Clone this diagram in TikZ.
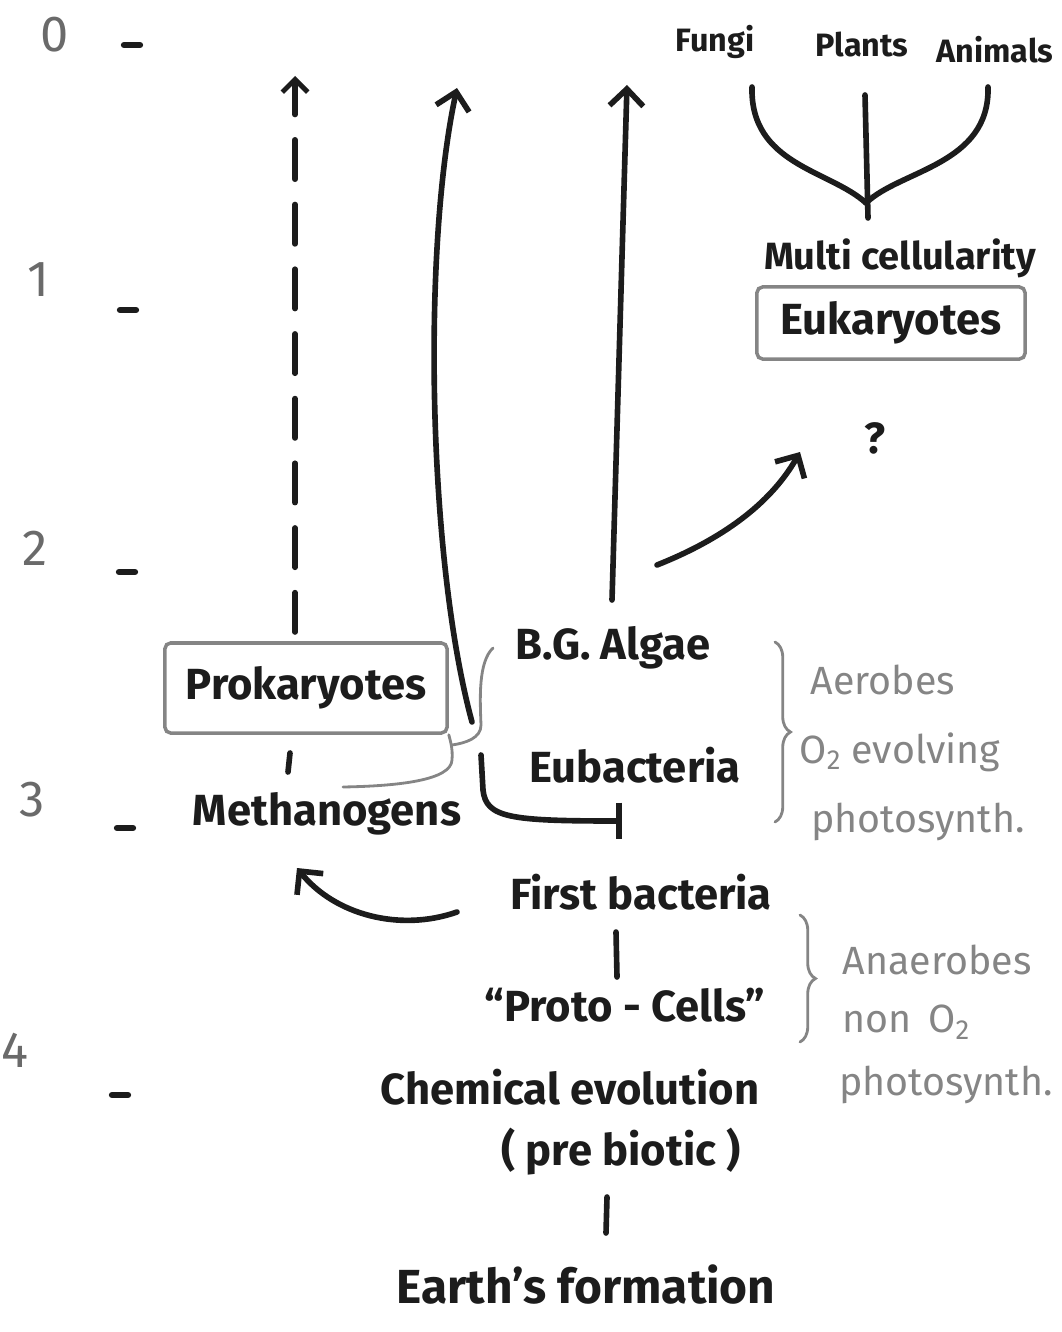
\documentclass[tikz,border=0pt]{standalone}
\usepackage{fontspec}
\setmainfont{Fira Sans}
\usetikzlibrary{arrows.meta,decorations.pathreplacing}
\definecolor{inkc}{HTML}{1C1C1C}
\definecolor{leadc}{HTML}{858585}

\begin{document}
\begin{tikzpicture}[
x=0.025cm,y=-0.025cm,
line cap=round,
inkline/.style={draw=inkc,line width=4pt},
leadline/.style={draw=leadc,line width=2pt},
tip/.style={-{Straight Barb[length=12pt,width=24pt,line width=4pt]}},
word/.style={text=inkc,font=\fontsize{31}{36}\selectfont\bfseries,inner sep=2pt},
small/.style={text=inkc,font=\fontsize{23}{28}\selectfont\bfseries,inner sep=2pt},
note/.style={text=leadc,font=\fontsize{28}{32}\selectfont,inner sep=2pt},
boxed/.style={draw=leadc,line width=2.5pt,rounded corners=4pt}
]
\useasboundingbox (0,0) rectangle (1061,1332);

% time scale
\foreach \t/\nx/\ny/\dx/\dy in {0/55/35/132/45,1/38/280/128/310,2/35/548/127/572,3/32/800/125/828,4/15/1050/120/1095}
{
    \node[note,font=\fontsize{36}{40}\selectfont,text=leadc!80!black] (age\t) at (\nx,\ny) {\t};
    \draw[inkline,line width=4.5pt] (\dx-8,\dy) -- (\dx+8,\dy);
}

% eukaryote branch
\node[small] (fungi) at (715,42) {Fungi};
\node[small] (plants) at (862,45) {Plants};
\node[small] (animals) at (995,50) {Animals};
\node[word,font=\fontsize{27}{32}\selectfont\bfseries] (multi) at (900,258) {Multi cellularity};
\node[word,boxed,minimum width=6.7cm,minimum height=1.8cm] (euk) at (891,323) {Eukaryotes};
\node[word] (q) at (875,438) {?};

\coordinate (forkjoin) at (866,203);
\coordinate (forkfoot) at (868,218);
\draw[inkline] (752,87) .. controls (750,165) and (830,170) .. (forkjoin);
\draw[inkline] (988,87) .. controls (990,165) and (900,170) .. (forkjoin);
\draw[inkline] (865,95) -- (forkfoot);

% prokaryote branch
\node[word,boxed,minimum width=7.05cm,minimum height=2.25cm] (prok) at (306,688) {Prokaryotes};
\node[word] (methan) at (327,814) {Methanogens};
\node[word] (algae) at (613,648) {B.G. Algae};
\node[word] (eubac) at (635,765) {Eubacteria};
\node[word] (first) at (641,892) {First bacteria};
\node[word] (proto) at (625,1005) {“Proto - Cells”};
\node[word] (chem) at (570,1087) {Chemical evolution};
\node[word] (prebio) at (621,1152) {( pre biotic )};
\node[word,font=\fontsize{34}{40}\selectfont\bfseries] (earth) at (586,1285) {Earth's formation};

% side notes
\node[note] (aero) at (883,680) {Aerobes};
\node[note] (oxev) at (900,752) {O\textsubscript{2} evolving};
\node[note] (phot1) at (918,822) {photosynth.};
\node[note] (anaero) at (937,960) {Anaerobes};
\node[note] (nonox) at (906,1022) {non\, O\textsubscript{2}};
\node[note] (phot2) at (946,1085) {photosynth.};
\draw[leadline,decorate,decoration={brace,amplitude=11pt}] (775,642) -- (775,822);
\draw[leadline,decorate,decoration={brace,amplitude=11pt}] (800,915) -- (800,1042);

% arrows up the time scale
\coordinate (dashfoot) at (295,632);
\coordinate (dashtop) at (295,76);
\coordinate (prokfoot) at (472,722);
\coordinate (proktop) at (457,88);
\coordinate (algaefoot) at (612,600);
\coordinate (algaetop) at (627,85);
\coordinate (eukfoot) at (657,565);
\coordinate (eukhead) at (800,452);
\draw[inkline,dash pattern=on 28pt off 18pt,-{Straight Barb[length=9pt,width=18pt,line width=3.5pt]}] (dashfoot) -- (dashtop);
\draw[inkline,tip] (prokfoot) .. controls (428,560) and (422,250) .. (proktop);
\draw[inkline,tip] (algaefoot) -- (algaetop);
\draw[inkline,tip] (eukfoot) .. controls (720,540) and (770,505) .. (eukhead);

% links
\coordinate (eubend) at (481,755);
\coordinate (eubtee) at (622,821);
\draw[inkline,-{Bar[width=26pt,line width=4pt]}] (eubend) -- (483,790) .. controls (486,818) and (510,821) .. (eubtee);
\coordinate (methtail) at (457,912);
\coordinate (methhead) at (297,868);
\draw[inkline,tip] (methtail) .. controls (400,932) and (335,915) .. (methhead);
\draw[inkline] (290,753) -- (288,772);
\draw[inkline] (616,932) -- (617,977);
\draw[inkline] (607,1197) -- (606,1233);

% pencil grouping
\draw[leadline] (493,648) .. controls (478,662) and (480,700) .. (481,725) .. controls (481,738) and (466,743) .. (452,745);
\draw[leadline] (prok.south east) .. controls (450,740) and (453,748) .. (452,760) .. controls (451,780) and (400,786) .. (343,787);
\end{tikzpicture}
\end{document}
